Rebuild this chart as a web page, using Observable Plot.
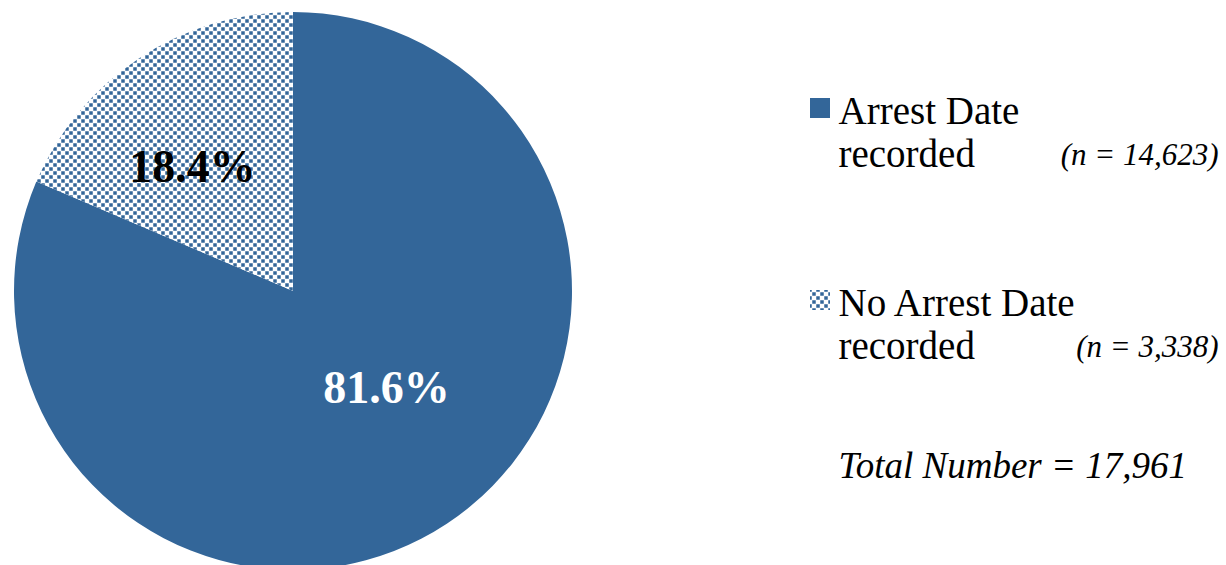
<!DOCTYPE html>
<html><head><meta charset="utf-8">
<script src="https://cdn.jsdelivr.net/npm/d3@7"></script>
<script src="https://cdn.jsdelivr.net/npm/@observablehq/plot@0.6"></script>
<style>body{margin:0;background:#fff} svg{display:block}</style>
</head><body><div id="chart"></div>
<script>
// ---- data ----
const categories = ["Arrest Date recorded", "No Arrest Date recorded"];
const counts = [14623, 3338];
const percentLabels = ["81.6%", "18.4%"];
const countLabels = ["(n = 14,623)", "(n = 3,338)"];
const totalLabel = ["Total Number = 17,961"];

// ---- layout / style ----
const W = 1226, H = 565;
const cx = 293, cy = 291, R = 279;
const blue = "#336699";
const serif = "'Liberation Serif', 'Times New Roman', serif";
const sliceFill = [blue, "url(#dots)"];
const pctX = [386, 192], pctY = [388, 167], pctFill = ["#fff", "#000"];
const legendY = [93, 285];

const pieData = d3.pie().sort(null).value(d => d.count)(
  categories.map((c, i) => ({category: c, count: counts[i]}))
);

const pieMark = () => {
  const g = d3.create("svg:g");
  const p = g.append("defs").append("pattern")
    .attr("id", "dots").attr("patternUnits", "userSpaceOnUse")
    .attr("width", 8).attr("height", 8);
  p.append("rect").attr("width", 8).attr("height", 8).attr("fill", "#fff");
  p.append("rect").attr("x", 0.25).attr("y", 0.25).attr("width", 3.5).attr("height", 3.5).attr("fill", blue);
  p.append("rect").attr("x", 4.25).attr("y", 4.25).attr("width", 3.5).attr("height", 3.5).attr("fill", blue);
  const arc = d3.arc().innerRadius(0).outerRadius(R);
  g.append("g").attr("transform", `translate(${cx},${cy})`)
    .selectAll("path").data(pieData).join("path")
    .attr("d", arc).attr("fill", (d, i) => sliceFill[i]);
  return g.node();
};

const chart = Plot.plot({
  width: W, height: H, margin: 0,
  x: {type: "identity", axis: null},
  y: {type: "identity", axis: null},
  color: {type: "identity"},
  style: {background: "#fff"},
  marks: [
    pieMark,
    Plot.text(percentLabels, {
      x: (d, i) => pctX[i], y: (d, i) => pctY[i], text: d => d,
      fill: (d, i) => pctFill[i], fontSize: 46, fontWeight: "bold", fontFamily: serif
    }),
    Plot.rect(categories, {
      x1: 810, x2: 830, y1: (d, i) => legendY[i] + 5, y2: (d, i) => legendY[i] + 25,
      fill: (d, i) => sliceFill[i]
    }),
    Plot.text(categories, {
      x: 838, y: (d, i) => legendY[i], text: d => d.replace(" recorded", "\nrecorded"),
      textAnchor: "start", lineAnchor: "top", lineHeight: 1.1,
      fontSize: 39, fontFamily: serif, fill: "#000"
    }),
    Plot.text(countLabels, {
      x: 1218, y: (d, i) => legendY[i] + 62, text: d => d,
      textAnchor: "end", fontSize: 31, fontStyle: "italic", fontFamily: serif, fill: "#000"
    }),
    Plot.text(totalLabel, {
      x: 838, y: 466, text: d => d, textAnchor: "start",
      fontSize: 37, fontStyle: "italic", fontFamily: serif, fill: "#000"
    })
  ]
});
document.getElementById("chart").append(chart);
</script>
</body></html>
